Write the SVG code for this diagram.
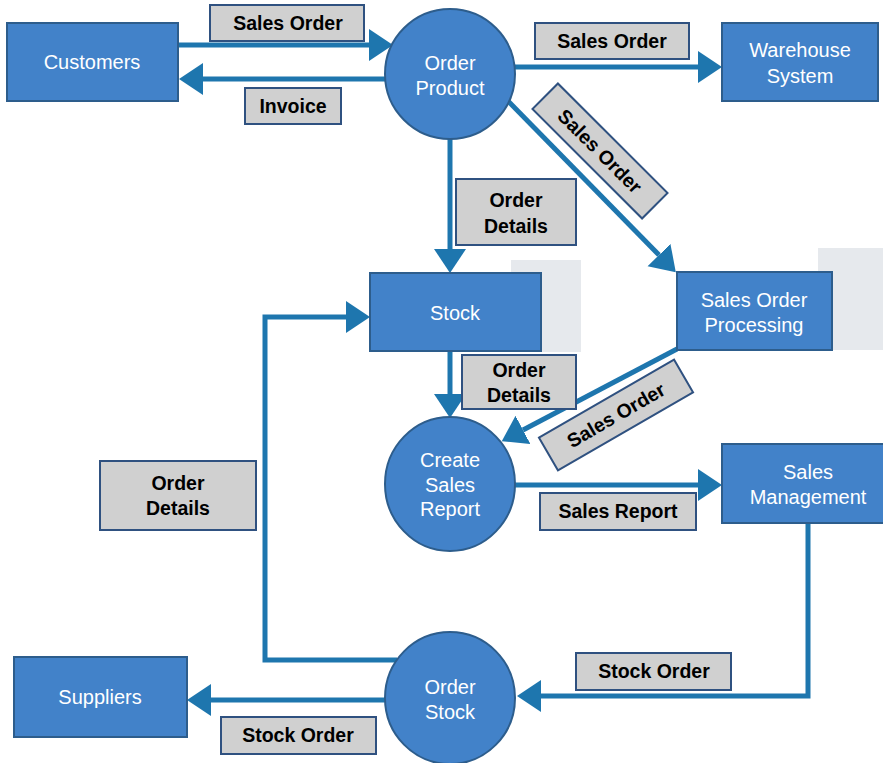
<svg xmlns="http://www.w3.org/2000/svg" width="883" height="763" viewBox="0 0 883 763">
  <style>
    .node { fill: #4282c9; stroke: #2d5d8c; stroke-width: 2; }
    .ntext { font-family: "Liberation Sans", Arial, sans-serif; font-size: 20px; fill: #ffffff; text-anchor: middle; }
    .lbl { fill: #d0d0d0; stroke: #2f5180; stroke-width: 2; }
    .ltext { font-family: "Liberation Sans", Arial, sans-serif; font-size: 19.5px; font-weight: bold; fill: #000000; text-anchor: middle; }
    .flow { fill: none; stroke: #1e76ae; stroke-width: 5; marker-end: url(#head); }
    .bg { fill: #e6e9ed; }
  </style>
  <defs>
    <marker id="head" markerUnits="userSpaceOnUse" markerWidth="26" markerHeight="34" refX="0" refY="16" orient="auto" viewBox="0 0 26 34">
      <path d="M0,0 L24,16 L0,32 Z" fill="#1e76ae"/>
    </marker>
  </defs>

  <rect x="0" y="0" width="883" height="763" fill="#ffffff"/>

  <!-- backing panels behind the two process boxes -->
  <rect class="bg" x="511" y="260" width="70" height="92"/>
  <rect class="bg" x="818" y="248" width="65" height="102"/>

  <!-- data flows -->
  <g id="connectors">
    <path class="flow" d="M178,45 H369"/>
    <path class="flow" d="M386,79 H203"/>
    <path class="flow" d="M514,67 H698"/>
    <path class="flow" d="M450,139 V249"/>
    <path class="flow" d="M508,101 L659,255"/>
    <path class="flow" d="M450,351 V394"/>
    <path class="flow" d="M677,349 L523,430"/>
    <path class="flow" d="M515,485 H698"/>
    <path class="flow" d="M808,523 V696 H541"/>
    <path class="flow" d="M397,660 H265 V317 H346"/>
    <path class="flow" d="M385,700 H211"/>
  </g>

  <!-- external entities and stores -->
  <g id="customers">
    <rect class="node" x="7" y="23" width="171" height="78"/>
    <text class="ntext" x="92" y="69">Customers</text>
  </g>
  <g id="warehouse-system">
    <rect class="node" x="722" y="23" width="156" height="78"/>
    <text class="ntext" x="800" y="57">Warehouse</text>
    <text class="ntext" x="800" y="83">System</text>
  </g>
  <g id="stock">
    <rect class="node" x="370" y="273" width="171" height="78"/>
    <text class="ntext" x="455" y="320">Stock</text>
  </g>
  <g id="sales-order-processing">
    <rect class="node" x="677" y="272" width="155" height="78"/>
    <text class="ntext" x="754" y="307">Sales Order</text>
    <text class="ntext" x="754" y="332">Processing</text>
  </g>
  <g id="sales-management">
    <rect class="node" x="722" y="444" width="171" height="79"/>
    <text class="ntext" x="808" y="479">Sales</text>
    <text class="ntext" x="808" y="504">Management</text>
  </g>
  <g id="suppliers">
    <rect class="node" x="14" y="657" width="173" height="80"/>
    <text class="ntext" x="100" y="704">Suppliers</text>
  </g>

  <!-- processes -->
  <g id="order-product">
    <circle class="node" cx="450" cy="74" r="65"/>
    <text class="ntext" x="450" y="70">Order</text>
    <text class="ntext" x="450" y="95">Product</text>
  </g>
  <g id="create-sales-report">
    <ellipse class="node" cx="450" cy="484" rx="65" ry="67"/>
    <text class="ntext" x="450" y="467">Create</text>
    <text class="ntext" x="450" y="492">Sales</text>
    <text class="ntext" x="450" y="516">Report</text>
  </g>
  <g id="order-stock">
    <ellipse class="node" cx="450" cy="698" rx="65" ry="66"/>
    <text class="ntext" x="450" y="694">Order</text>
    <text class="ntext" x="450" y="719">Stock</text>
  </g>

  <!-- flow labels -->
  <g id="label-sales-order-1">
    <rect class="lbl" x="210" y="5" width="154" height="36"/>
    <text class="ltext" x="288" y="30">Sales Order</text>
  </g>
  <g id="label-invoice">
    <rect class="lbl" x="245" y="88" width="96" height="36"/>
    <text class="ltext" x="293" y="113">Invoice</text>
  </g>
  <g id="label-sales-order-2">
    <rect class="lbl" x="535" y="23" width="154" height="36"/>
    <text class="ltext" x="612" y="48">Sales Order</text>
  </g>
  <g id="label-sales-order-3" transform="translate(600,151) rotate(45)">
    <rect class="lbl" x="-77.5" y="-18" width="155" height="36"/>
    <text class="ltext" x="0" y="7">Sales Order</text>
  </g>
  <g id="label-order-details-1">
    <rect class="lbl" x="456" y="179" width="120" height="66"/>
    <text class="ltext" x="516" y="207">Order</text>
    <text class="ltext" x="516" y="233">Details</text>
  </g>
  <g id="label-order-details-2">
    <rect class="lbl" x="462" y="355" width="114" height="54"/>
    <text class="ltext" x="519" y="377">Order</text>
    <text class="ltext" x="519" y="402">Details</text>
  </g>
  <g id="label-sales-order-4" transform="translate(616,415) rotate(-30)">
    <rect class="lbl" x="-78" y="-19" width="156" height="38"/>
    <text class="ltext" x="0" y="7">Sales Order</text>
  </g>
  <g id="label-sales-report">
    <rect class="lbl" x="540" y="493" width="156" height="37"/>
    <text class="ltext" x="618" y="518">Sales Report</text>
  </g>
  <g id="label-order-details-3">
    <rect class="lbl" x="100" y="461" width="156" height="69"/>
    <text class="ltext" x="178" y="490">Order</text>
    <text class="ltext" x="178" y="515">Details</text>
  </g>
  <g id="label-stock-order-1">
    <rect class="lbl" x="576" y="653" width="155" height="37"/>
    <text class="ltext" x="654" y="678">Stock Order</text>
  </g>
  <g id="label-stock-order-2">
    <rect class="lbl" x="221" y="717" width="155" height="37"/>
    <text class="ltext" x="298" y="742">Stock Order</text>
  </g>
</svg>
